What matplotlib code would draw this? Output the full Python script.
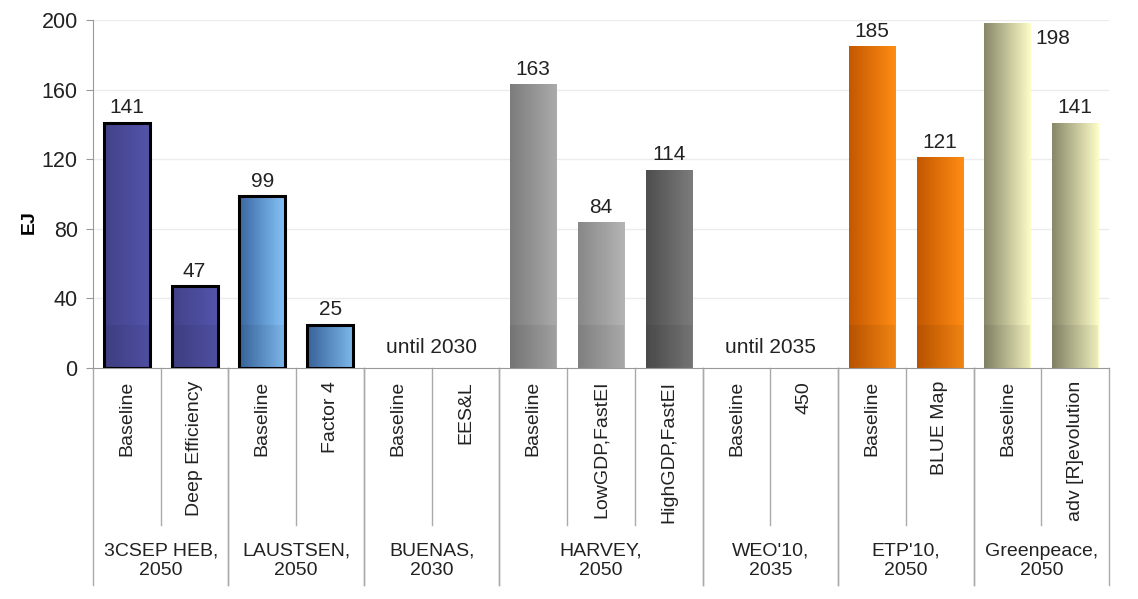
import numpy as np
import matplotlib
matplotlib.use("Agg")
import matplotlib.pyplot as plt
from matplotlib.colors import LinearSegmentedColormap

plt.rcParams['font.family'] = ['Liberation Sans', 'DejaVu Sans']

# ---- data ----
groups = ["3CSEP HEB,\n2050", "LAUSTSEN,\n2050", "BUENAS,\n2030", "HARVEY,\n2050",
          "WEO'10,\n2035", "ETP'10,\n2050", "Greenpeace,\n2050"]
group_sizes = [2, 2, 2, 3, 2, 2, 2]
scenarios = ["Baseline", "Deep Efficiency", "Baseline", "Factor 4", "Baseline", "EES&L",
             "Baseline", "LowGDP,FastEI", "HighGDP,FastEI", "Baseline", "450",
             "Baseline", "BLUE Map", "Baseline", "adv [R]evolution"]
values = [141, 47, 99, 25, np.nan, np.nan, 163, 84, 114, np.nan, np.nan, 185, 121, 198, 141]
notes = {"BUENAS,\n2030": "until 2030", "WEO'10,\n2035": "until 2035"}
yticks = [0, 40, 80, 120, 160, 200]

# gradient colors (left, right) and edge per bar
grad = [("#42428a", "#5454ac"), ("#42428a", "#5454ac"),
        ("#3a68a2", "#86c4fa"), ("#3a68a2", "#86c4fa"),
        (None, None), (None, None),
        ("#7c7c7c", "#ababab"), ("#888888", "#b4b4b4"), ("#4e4e4e", "#7c7c7c"),
        (None, None), (None, None),
        ("#c45800", "#ff8c14"), ("#c45800", "#ff8c14"),
        ("#88886a", "#fdfdc8"), ("#88886a", "#fdfdc8")]
edge = [True, True, True, True, False, False, False, False, False, False, False,
        False, False, False, False]

fig = plt.figure(figsize=(11.38, 5.99), dpi=100)
ax = fig.add_axes([93/1138, 1-368/599, 1016/1138, 348/599])

n = len(scenarios)
x = np.arange(n)
ax.set_xlim(-0.5, n-0.5)
ax.set_ylim(0, 200)

# gridlines
for t in yticks[1:]:
    ax.axhline(t, color="#ececec", lw=1.0, zorder=0)

w = 0.68
for i, v in enumerate(values):
    if np.isnan(v):
        continue
    c0, c1 = grad[i]
    bars = ax.bar(x[i], v, width=w, color="none",
                  edgecolor="black" if edge[i] else "none",
                  linewidth=2.2 if edge[i] else 0, zorder=3)
    patch = bars[0]
    cmap = LinearSegmentedColormap.from_list("g", [c0, c1])
    gr = np.linspace(0, 1, 64).reshape(1, -1)
    im = ax.imshow(gr, cmap=cmap, aspect="auto", extent=(x[i]-w/2, x[i]+w/2, 0, v),
                   zorder=2, interpolation="bilinear")
    im.set_clip_path(patch)
    # darker base band
    ax.bar(x[i], min(v, 25), width=w, color="black", alpha=0.06, zorder=2.5, linewidth=0)
    if v > 190:
        ax.text(x[i]+w/2+0.08, v-3, f"{v:.0f}", ha="left", va="top", fontsize=15,
                zorder=4, color="#222222")
    else:
        ax.text(x[i], v+3, f"{v:.0f}", ha="center", va="bottom", fontsize=15,
                zorder=4, color="#222222")

# axes styling
for s in ["top", "right"]:
    ax.spines[s].set_visible(False)
ax.spines["left"].set_color("#999999")
ax.spines["bottom"].set_color("#999999")
ax.set_yticks(yticks)
ax.tick_params(axis="y", labelsize=15.5, length=5, color="#999999", pad=6,
               labelcolor="#222222")
ax.set_xticks([])
ax.set_ylabel("EJ", fontsize=14, fontweight="bold")
ax.yaxis.set_label_coords(-0.054, (368-222)/348)

# multi-level category axis
trans = ax.get_xaxis_transform()
inner_drop = (525-368)/348
outer_drop = (585-368)/348
start = 0
for gname, gs in zip(groups, group_sizes):
    for j in range(gs):
        k = start + j
        ax.text(x[k], -13/348, scenarios[k], rotation=90, ha="center", va="top",
                fontsize=14, transform=trans, color="#222222")
        if j > 0:
            ax.plot([k-0.5, k-0.5], [0, -inner_drop], transform=trans, color="#aaaaaa",
                    lw=1, clip_on=False)
    left = start - 0.5
    right = start + gs - 0.5
    ax.plot([left, left], [0, -outer_drop], transform=trans, color="#aaaaaa", lw=1, clip_on=False)
    ax.plot([right, right], [0, -outer_drop], transform=trans, color="#aaaaaa", lw=1, clip_on=False)
    ax.text((left+right)/2, -(543-368)/348, gname, ha="center", va="top", fontsize=14,
            transform=trans, color="#222222", linespacing=1.15)
    if gname in notes:
        ax.text((left+right)/2, 12, notes[gname], ha="center", va="center", fontsize=15,
                zorder=4, color="#222222")
    start += gs

fig.savefig("out.png", dpi=100)
